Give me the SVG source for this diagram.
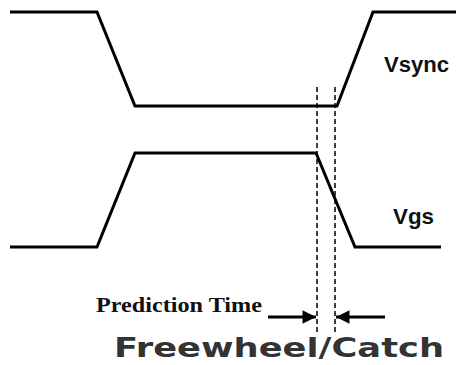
<svg xmlns="http://www.w3.org/2000/svg" width="456" height="365" viewBox="0 0 456 365">
<style>
.wave{fill:none;stroke:#000;stroke-width:3;stroke-linejoin:miter}
.dash{fill:none;stroke:#000;stroke-width:1.5;stroke-dasharray:5 3}
.arr{fill:none;stroke:#000;stroke-width:3}
.lbl{font-family:"Liberation Sans",Arial,sans-serif;font-weight:bold;font-size:22px;fill:#111}
</style>
<defs>
<marker id="ah" viewBox="0 0 10 10" refX="10" refY="5" markerWidth="5" markerHeight="4.5" markerUnits="strokeWidth" orient="auto">
<path d="M0,0 L10,5 L0,10 Z" fill="#000"/>
</marker>
</defs>
<rect width="456" height="365" fill="#fff"/>
<g id="vsync">
<polyline class="wave" points="10,12 97,12 135,106 337,106 373,12 456,12"/>
<text class="lbl" x="384" y="72" textLength="65" lengthAdjust="spacingAndGlyphs">Vsync</text>
</g>
<g id="vgs">
<polyline class="wave" points="10,247 97,247 135,153 316,153 355,247 441,247"/>
<text class="lbl" x="393" y="224" textLength="41" lengthAdjust="spacingAndGlyphs">Vgs</text>
</g>
<g id="connectors">
<line class="dash" x1="317" y1="87" x2="317" y2="334"/>
<line class="dash" x1="335" y1="87" x2="335" y2="334"/>
<line class="arr" x1="268" y1="317" x2="316" y2="317" marker-end="url(#ah)"/>
<line class="arr" x1="385" y1="317" x2="336" y2="317" marker-end="url(#ah)"/>
</g>
<g id="labels">
<text x="96" y="312" font-family="'Liberation Serif','Times New Roman',serif" font-weight="bold" font-size="22" textLength="166" lengthAdjust="spacingAndGlyphs" fill="#111">Prediction Time</text>
<text x="114" y="357" font-family="'DejaVu Sans',Verdana,sans-serif" font-weight="bold" font-size="27" textLength="330" lengthAdjust="spacingAndGlyphs" fill="#333">Freewheel/Catch</text>
</g>
</svg>
